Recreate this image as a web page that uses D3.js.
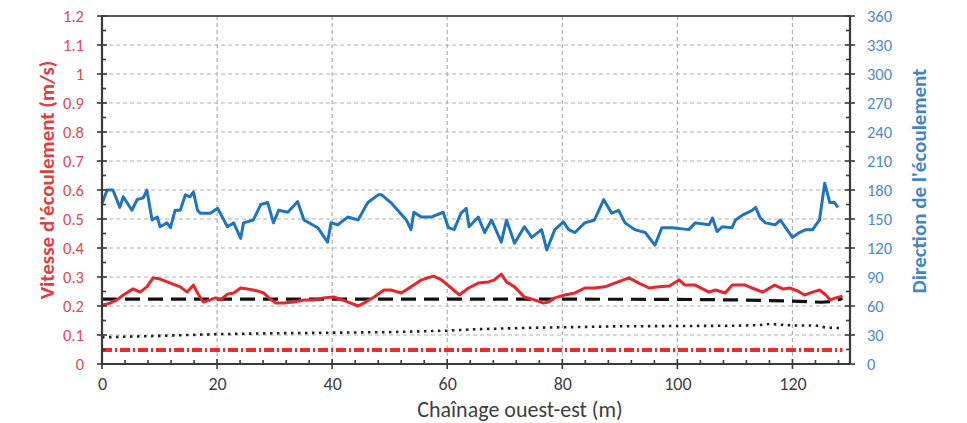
<!DOCTYPE html>
<html><head><meta charset="utf-8">
<script src="https://cdn.jsdelivr.net/npm/d3@7"></script>
<style>body{margin:0;background:#fff}svg{display:block}text{font-family:Carlito,Lato,"Open Sans",sans-serif}</style>
</head><body><svg id="c" width="967" height="423"></svg>
<script>
// Flow direction (deg, right axis)
const dirX = [0,0.9,1.9,3.1,3.7,5.2,6.1,7.2,7.8,8.7,9.6,10.1,11.3,11.9,12.7,13.6,14.5,15.3,15.9,16.6,17.1,18.8,20.1,21.8,22.9,24.1,24.6,26.3,27.6,28.8,29.8,30.7,32.3,34.0,35.1,37.5,39.2,39.8,41.0,42.7,44.5,46.2,48.0,48.6,50.2,52.9,53.7,54.2,55.5,57.2,59.3,60.2,61.2,62.4,63.3,63.8,65.4,66.5,67.7,69.4,70.3,71.7,73.4,74.7,76.4,77.3,78.7,80.2,81.1,82.2,83.9,85.6,87.2,88.6,89.8,90.9,92.6,94.4,96.1,97.3,99.1,102.0,103.1,105.5,106.1,106.9,107.8,109.5,110.1,111.3,113.0,113.6,114.4,115.3,117.0,117.9,118.8,120.0,121.2,122.3,123.5,124.7,125.6,126.5,127.3,127.9];
const dirV = [166,180,180,162,173,159,170,172,180,149,152,142,146,141,159,159,175,173,178,159,156,156,161,142,146,130,146,149,165,167,146,159,157,168,149,141,126,146,144,152,149,167,175,175,167,149,139,157,152,152,157,141,139,156,161,142,152,136,149,126,149,125,142,131,139,118,139,147,139,136,146,149,170,156,159,146,139,136,123,141,141,139,146,144,151,137,142,141,149,154,159,162,151,146,144,149,141,131,136,139,139,149,187,167,167,162];
// Flow speed (m/s, left axis)
const speedX = [0,1.4,2.6,3.7,5.4,6.6,7.8,8.9,10.1,11.9,13.6,14.8,15.9,16.6,17.6,18.8,19.7,20.6,21.8,22.9,24.1,25.3,27.0,28.1,29.0,30.2,31.6,33.3,35.1,36.8,38.5,40.3,42.7,44.5,45.5,47.3,49.0,50.2,52.0,53.7,55.5,57.6,59.0,60.7,62.1,63.7,65.4,67.2,68.2,69.4,70.3,71.7,73.4,75.2,76.7,77.6,78.7,80.4,82.2,83.9,85.6,87.4,89.1,91.6,93.3,95.1,96.8,98.6,100.3,101.3,103.1,105.5,106.6,108.3,109.5,111.8,113.0,114.8,116.9,118.3,119.5,120.9,122.1,123.5,124.7,125.8,126.6,127.5,128.7];
const speedV = [0.203,0.210,0.221,0.238,0.259,0.248,0.266,0.297,0.293,0.279,0.266,0.248,0.272,0.245,0.214,0.221,0.228,0.221,0.241,0.245,0.262,0.259,0.252,0.245,0.228,0.210,0.210,0.214,0.221,0.221,0.228,0.231,0.214,0.200,0.210,0.231,0.255,0.255,0.245,0.266,0.290,0.303,0.290,0.262,0.238,0.262,0.279,0.283,0.290,0.310,0.283,0.266,0.231,0.221,0.210,0.214,0.228,0.238,0.245,0.262,0.262,0.266,0.279,0.297,0.279,0.262,0.266,0.269,0.290,0.272,0.272,0.248,0.255,0.245,0.272,0.272,0.262,0.248,0.272,0.259,0.262,0.252,0.238,0.248,0.255,0.238,0.221,0.228,0.234];
// Black dashed reference
const dashX = [0,60,100,110,120,125,127,128.7];
const dashV = [0.224,0.224,0.223,0.221,0.217,0.213,0.216,0.226];
// Black dotted reference
const dotX = [0,10,20,30,40,50,60,65,75,90,110,114,116,120,124,126,128.7];
const dotV = [0.092,0.097,0.103,0.106,0.108,0.110,0.115,0.120,0.125,0.130,0.132,0.134,0.138,0.133,0.133,0.125,0.124];
// Red dash-dot reference
const ddX = [0,128.7];
const ddV = [0.048,0.048];

const xTicks = [0,20,40,60,80,100,120];
const yLeftTicks = [0,0.1,0.2,0.3,0.4,0.5,0.6,0.7,0.8,0.9,1,1.1,1.2];
const yRightTicks = [0,30,60,90,120,150,180,210,240,270,300,330,360];

const L=102,R=850,T=16,B=364;
const svg = d3.select("#c");
svg.append("rect").attr("width",967).attr("height",423).attr("fill","#fff");
const x = d3.scaleLinear().domain([0,130]).range([L,R]);
const yL = d3.scaleLinear().domain([0,1.2]).range([B,T]);
const yR = d3.scaleLinear().domain([0,360]).range([B,T]);

// grid
const g = svg.append("g");
g.selectAll(".hg").data(yLeftTicks.filter(v=>v>0&&v<1.2)).join("line")
  .attr("x1",L).attr("x2",R).attr("y1",d=>yL(d)).attr("y2",d=>yL(d))
  .attr("stroke","#b8b0ac").attr("stroke-width",1.2).attr("stroke-dasharray","4,3");
g.selectAll(".vg").data(xTicks.filter(v=>v>0)).join("line")
  .attr("y1",T).attr("y2",B).attr("x1",d=>x(d)).attr("x2",d=>x(d))
  .attr("stroke","#b0b0b0").attr("stroke-width",1.2).attr("stroke-dasharray","4,3");

// series
const line = (xs,vs,ys)=>d3.line().x((d,i)=>x(xs[i])).y(d=>ys(d))(vs);
svg.append("path").attr("d",line(ddX,ddV,yL)).attr("fill","none")
  .attr("stroke","#ee2a2a").attr("stroke-width",4).attr("stroke-dasharray","10,3,2,3");
svg.append("path").attr("d",line(dotX,dotV,yL)).attr("fill","none")
  .attr("stroke","#222").attr("stroke-width",2.6).attr("stroke-dasharray","2.5,4.5");
svg.append("path").attr("d",line(dashX,dashV,yL)).attr("fill","none")
  .attr("stroke","#111").attr("stroke-width",3.2).attr("stroke-dasharray","15,8");
svg.append("path").attr("d",line(speedX,speedV,yL)).attr("fill","none")
  .attr("stroke","#e8252b").attr("stroke-width",3).attr("stroke-linejoin","round");
svg.append("path").attr("d",line(dirX,dirV,yR)).attr("fill","none")
  .attr("stroke","#1f74bd").attr("stroke-width",3).attr("stroke-linejoin","round");

// frame
const ax = svg.append("g").attr("stroke","#3a3a3a").attr("stroke-width",2.2);
ax.append("line").attr("x1",L).attr("x2",R).attr("y1",T).attr("y2",T).attr("stroke","#555");
ax.append("line").attr("x1",L).attr("x2",R).attr("y1",B).attr("y2",B);
ax.append("line").attr("x1",L).attr("x2",L).attr("y1",T).attr("y2",B);
ax.append("line").attr("x1",R).attr("x2",R).attr("y1",T).attr("y2",B);

// axes via d3
const leftAxis = d3.axisLeft(yL).tickValues(yLeftTicks).tickSize(0).tickPadding(18).tickFormat(d=>d3.format("")(+d.toFixed(1)));
const gl = svg.append("g").attr("transform",`translate(${L},0)`).call(leftAxis);
gl.select(".domain").remove();
gl.selectAll("text").attr("fill","#e8474a").attr("font-size",16.5);
const rightAxis = d3.axisRight(yR).tickValues(yRightTicks).tickSize(0).tickPadding(17);
const gr = svg.append("g").attr("transform",`translate(${R},0)`).call(rightAxis);
gr.select(".domain").remove();
gr.selectAll("text").attr("fill","#4a8ccb").attr("font-size",16.5);
const bottomAxis = d3.axisBottom(x).tickValues(xTicks).tickSize(0).tickPadding(13);
const gb = svg.append("g").attr("transform",`translate(0,${B})`).call(bottomAxis);
gb.select(".domain").remove();
gb.selectAll("text").attr("fill","#404040").attr("font-size",18);

// tick marks
const tk = svg.append("g").attr("stroke","#3a3a3a").attr("stroke-width",1.6);
yLeftTicks.forEach(v=>{
  tk.append("line").attr("x1",L-5).attr("x2",L+5).attr("y1",yL(v)).attr("y2",yL(v));
  tk.append("line").attr("x1",R-5).attr("x2",R+5).attr("y1",yL(v)).attr("y2",yL(v));
  if(v<1.2){
    tk.append("line").attr("x1",L).attr("x2",L+4).attr("y1",yL(v+0.05)).attr("y2",yL(v+0.05));
    tk.append("line").attr("x1",R-4).attr("x2",R).attr("y1",yL(v+0.05)).attr("y2",yL(v+0.05));
  }
});
d3.range(0,131,4).forEach(v=>{
  if(v%20!==0) tk.append("line").attr("x1",x(v)).attr("x2",x(v)).attr("y1",B).attr("y2",B-4);
});
xTicks.forEach(v=>tk.append("line").attr("x1",x(v)).attr("x2",x(v)).attr("y1",B-5).attr("y2",B+5));

// titles
svg.append("text").attr("transform","translate(54,180) rotate(-90)").attr("text-anchor","middle")
  .attr("fill","#e8393c").attr("font-size",21).attr("font-weight","bold").text("Vitesse d'écoulement (m/s)");
svg.append("text").attr("transform","translate(926,181) rotate(-90)").attr("text-anchor","middle")
  .attr("fill","#3f86c8").attr("font-size",21).attr("font-weight","bold").text("Direction de l'écoulement");
svg.append("text").attr("x",520).attr("y",417).attr("text-anchor","middle")
  .attr("fill","#404040").attr("font-size",22).text("Chaînage ouest-est (m)");
</script></body></html>
